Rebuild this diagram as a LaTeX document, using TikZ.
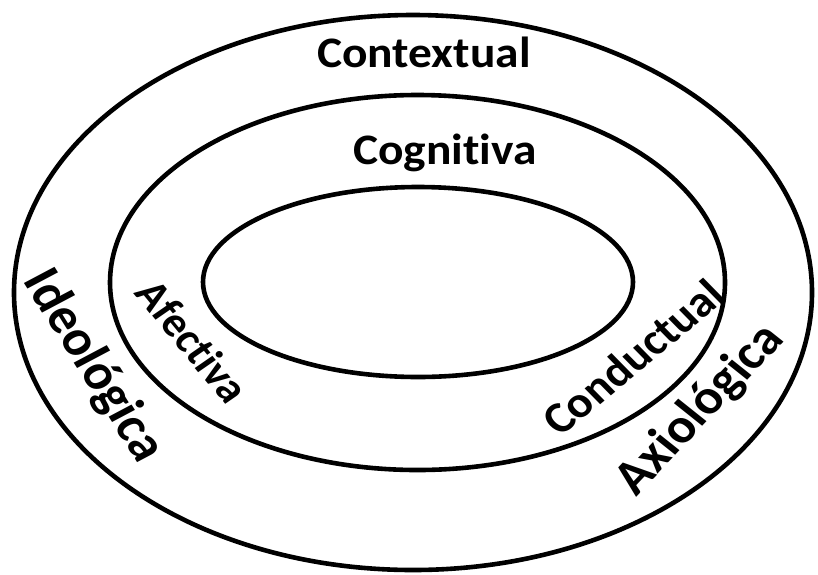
\documentclass[tikz,border=0pt]{standalone}
\usepackage{fontspec}
\setmainfont{Carlito}[Ligatures={NoCommon}]
\usetikzlibrary{shapes.geometric}
\begin{document}
\begin{tikzpicture}[x=1pt,y=-1pt,
  ring/.style={draw=black, line width=4.6pt, ellipse, inner sep=0pt, outer sep=0pt},
  lbl/.style={font=\bfseries\fontsize{#1}{#1}\selectfont, inner sep=0pt, anchor=center}]
\useasboundingbox (0,0) rectangle (818,574);
\fill[white] (0,0) rectangle (818,574);
\node[ring, minimum width=798pt, minimum height=555pt] (outer) at (413,292.5) {};
\node[ring, minimum width=615pt, minimum height=375pt] (middle) at (417.5,282.5) {};
\node[ring, minimum width=430pt, minimum height=190pt] (inner) at (418,282) {};
\begin{scope}[xscale=1.09, transform shape]
\node[lbl=43.5pt] (contextual) at (424/1.09,52) {Contextual};
\node[lbl=43.5pt] (cognitiva) at (445/1.09,153) {Cognitiva};
\node[lbl=50pt, rotate=-60] (ideologica) at (93/1.09,366) {Ideológica};
\node[lbl=42pt, rotate=-53] (afectiva) at (193/1.09,341) {Afectiva};
\node[lbl=44pt, rotate=42] (conductual) at (633/1.09,357) {Conductual};
\node[lbl=49pt, rotate=49] (axiologica) at (700/1.09,410) {Axiológica};
\end{scope}
\end{tikzpicture}
\end{document}
